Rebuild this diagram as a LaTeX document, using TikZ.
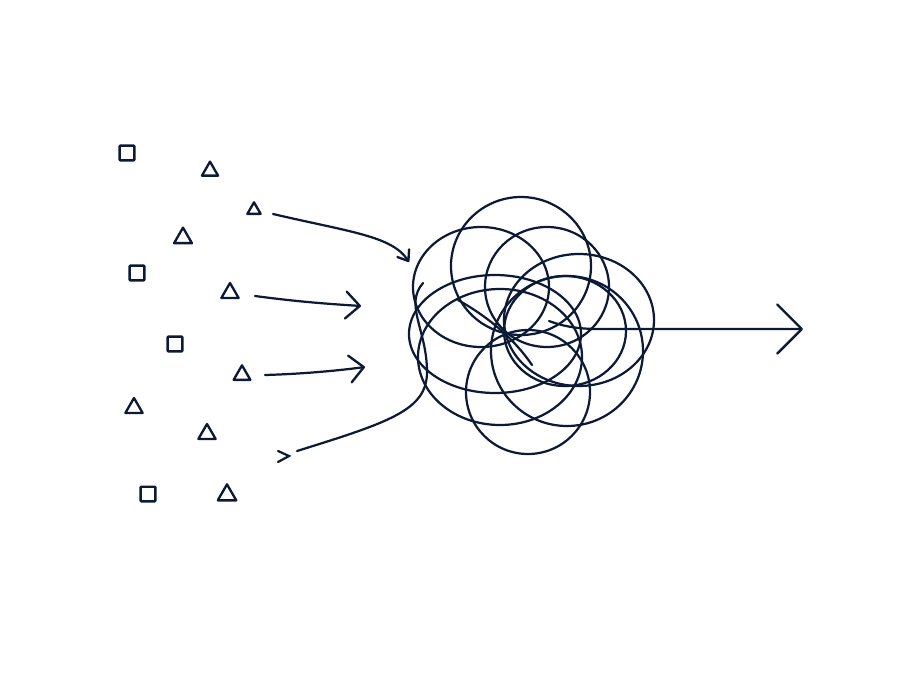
\documentclass[tikz,border=0pt]{standalone}
\usepackage{xcolor}
\usepackage{tikz}
\usetikzlibrary{arrows.meta, shapes.geometric}
\definecolor{ink}{HTML}{0C1A35}
\tikzset{
    sq/.style={rectangle, draw=ink, line width=2pt, minimum size=0.44cm, inner sep=0pt, rounded corners=0.6pt},
    tri/.style={regular polygon, regular polygon sides=3, draw=ink, line width=2pt, inner sep=0pt, line join=round},
    coil/.style={draw=ink, line width=1.9pt},
    chev/.style={-{Straight Barb[length=12pt, width=23pt, line width=2pt, round]}},
}

\begin{document}
\begin{tikzpicture}[x=0.03cm, y=-0.03cm, line cap=round, ink]
            \useasboundingbox (0,0) rectangle (900,675);
            % the scattered shapes
            \node[sq] (s1) at (127,153) {};
            \node[sq] (s2) at (137,273) {};
            \node[sq] (s3) at (175,344) {};
            \node[sq] (s4) at (148,494) {};
            \node[tri, minimum size=0.56cm] (t1) at (210,171) {};
            \node[tri, minimum size=0.46cm] (t2) at (254,210) {};
            \node[tri, minimum size=0.62cm] (t3) at (183,238) {};
            \node[tri, minimum size=0.60cm] (t4) at (230,293) {};
            \node[tri, minimum size=0.58cm] (t5) at (242,375) {};
            \node[tri, minimum size=0.60cm] (t6) at (134,408) {};
            \node[tri, minimum size=0.60cm] (t7) at (207,434) {};
            \node[tri, minimum size=0.64cm] (t8) at (227,495) {};
            % arrow ends
            \coordinate (a1s) at (273,214);
            \coordinate (a1e) at (409,262);
            \coordinate (a2s) at (255,296);
            \coordinate (a2e) at (361,306);
            \coordinate (a3s) at (265,375);
            \coordinate (a3e) at (365,367);
            \coordinate (a4s) at (297,451);
            \coordinate (a4m) at (427,372);
            \coordinate (a4e) at (423,283);
            \coordinate (ms) at (278,451);
            \coordinate (bs) at (549,321);
            \coordinate (bm) at (600,329);
            \coordinate (be) at (803,329);
            % the tangle
            \draw[coil] (521,266) ellipse [x radius=70, y radius=69];
            \draw[coil] (481,287) ellipse [x radius=68, y radius=60];
            \draw[coil] (547,287) ellipse [x radius=62, y radius=60];
            \draw[coil] (579,320) ellipse [x radius=75, y radius=66];
            \draw[coil] (565,331) ellipse [x radius=61, y radius=55];
            \draw[coil] (567,351) ellipse [x radius=76, y radius=75];
            \draw[coil] (495,334) ellipse [x radius=86, y radius=59];
            \draw[coil] (500,357) ellipse [x radius=82, y radius=68];
            \draw[coil] (528,392) ellipse [x radius=62, y radius=62];
            \draw[coil] (458,300) .. controls (490,318) and (515,340) .. (532,365);
            % arrows in
            \draw[coil, -{Straight Barb[length=8pt, width=12pt, line width=2pt, round]}] (a1s) .. controls (350,232) and (392,236) .. (a1e);
            \draw[coil, chev] (a2s) .. controls (300,302) and (330,304) .. (a2e);
            \draw[coil, chev] (a3s) .. controls (300,374) and (335,371) .. (a3e);
            \draw[coil] (a4s) .. controls (390,422) and (427,410) .. (a4m) .. controls (427,330) and (404,305) .. (a4e);
            \draw[coil] (ms) -- ++(11,5) -- ++(-11,6);
            % arrow out
            \draw[coil, -{Straight Barb[length=21pt, width=42pt, line width=2pt, round]}] (bs) .. controls (565,327) and (580,329) .. (bm) -- (be);
        \end{tikzpicture}
\end{document}
